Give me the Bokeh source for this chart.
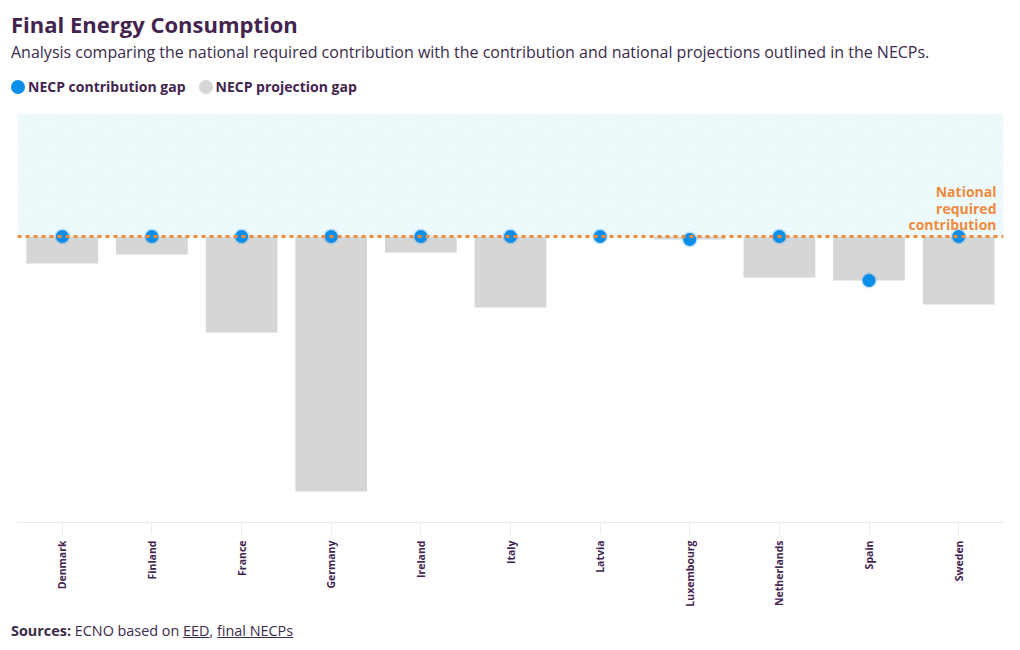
from bokeh.plotting import figure
from bokeh.models import (Range1d, FactorRange, Span, BoxAnnotation, Label, Div,
                          ColumnDataSource)
from bokeh.layouts import column
from bokeh.embed import file_html
from bokeh.resources import INLINE
from math import pi

countries = ["Denmark", "Finland", "France", "Germany", "Ireland", "Italy", "Latvia",
             "Luxembourg", "Netherlands", "Spain", "Sweden"]
projection_gap = [-2.7, -1.8, -9.6, -25.5, -1.6, -7.1, 0.0, -0.3, -4.1, -4.4, -6.8]
contribution_gap = [0.0, 0.0, 0.0, 0.0, 0.0, 0.0, 0.0, -0.3, 0.0, -4.4, 0.0]
required_line = 0.0
series_labels = ["NECP contribution gap", "NECP projection gap"]
title_text = "Final Energy Consumption"
subtitle_text = ("Analysis comparing the national required contribution with the "
                 "contribution and national projections outlined in the NECPs.")

FONT = "Open Sans"
PURPLE = "#43244f"
TXT = "#3b2a4b"
BLUE = "#0b8ee8"
GREY = "#d6d6d6"
ORANGE = "#f08a3c"

# ---------- header (title, subtitle, legend) ----------
def legend_item(color, label, gap):
    return (f'<span style="display:inline-flex;align-items:center;margin-right:{gap}px;">'
            f'<span style="display:inline-block;width:14px;height:14px;border-radius:7px;'
            f'background:{color};margin-right:3px;"></span>'
            f'<span style="font-weight:bold;font-size:14px;color:{PURPLE};">{label}</span></span>')

header_html = (
    f'<div style="font-family:{FONT};padding-left:11px;">'
    f'<div style="height:10px;"></div>'
    f'<div style="font-size:22px;font-weight:bold;color:{PURPLE};line-height:28px;white-space:nowrap;">{title_text}</div>'
    f'<div style="font-size:16px;color:{TXT};line-height:20px;margin-top:4px;white-space:nowrap;">{subtitle_text}</div>'
    f'<div style="line-height:20px;margin-top:15px;white-space:nowrap;">'
    f'{legend_item(BLUE, series_labels[0], 13)}{legend_item(GREY, series_labels[1], 0)}</div>'
    f'</div>')
header = Div(text=header_html, width=1004, height=105, margin=(0, 0, 0, 0))

# ---------- chart ----------
src = ColumnDataSource(dict(x=countries, proj=projection_gap, contrib=contribution_gap,
                            zero=[required_line] * len(countries)))

p = figure(x_range=FactorRange(*countries, range_padding=0), y_range=Range1d(-28.6, 12.3),
           width=1012, height=515, output_backend="svg", toolbar_location=None,
           min_border_left=17, min_border_right=9, min_border_top=8, min_border_bottom=98,
           margin=(0, 0, 0, 0))
p.outline_line_color = None
p.xgrid.visible = False
p.ygrid.visible = False
p.yaxis.visible = False
p.background_fill_color = "white"
p.border_fill_color = "white"

# hatched area above the required contribution
p.add_layout(BoxAnnotation(bottom=required_line, fill_color="#f8fdfe", fill_alpha=1,
                           hatch_pattern="/", hatch_color="#d3f2f6", hatch_scale=5,
                           hatch_weight=0.8, line_color=None, level="underlay"))

p.vbar(x="x", top="zero", bottom="proj", width=0.8, source=src,
       fill_color=GREY, line_color=None)
p.scatter(x="x", y="contrib", source=src, size=13, fill_color=BLUE,
          line_color=BLUE, line_alpha=0.2, line_width=3)

p.add_layout(Span(location=required_line, dimension="width", line_color=ORANGE,
                  line_width=3, line_dash="4 4", level="overlay"))

for i, t in enumerate(["contribution", "required", "National"]):
    p.add_layout(Label(x=979, x_units="screen", y=required_line, y_offset=12 + 16.5 * i,
                       text=t, text_align="right", text_baseline="middle",
                       text_font=FONT, text_font_size="14px", text_font_style="bold",
                       text_color=ORANGE))

ax = p.xaxis[0]
ax.major_label_orientation = pi / 2
ax.major_label_text_font = FONT
ax.major_label_text_font_size = "10.5px"
ax.major_label_text_font_style = "bold"
ax.major_label_text_color = PURPLE
ax.axis_line_color = "#ebebeb"
ax.major_tick_line_color = "#ebebeb"
ax.major_tick_out = 12
ax.major_tick_in = 0
ax.major_label_standoff = 6

sources = Div(text='<b>Sources:</b> ECNO based on <u>EED</u>, <u>final NECPs</u>',
              width=1004, height=24, margin=(0, 0, 0, 0),
              styles={"font-family": FONT, "font-size": "14.4px", "color": TXT,
                      "padding-left": "11px", "line-height": "22px"})

layout = column(header, p, sources, spacing=0)
open("out.html", "w").write(file_html(layout, INLINE))
